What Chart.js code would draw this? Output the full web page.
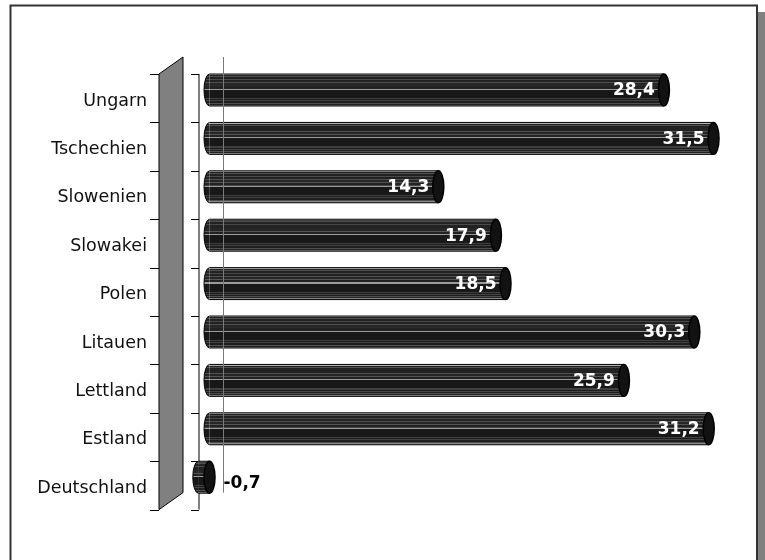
<!DOCTYPE html>
<html>
<head>
<meta charset="utf-8">
<script src="https://cdn.jsdelivr.net/npm/chart.js@4.4.1/dist/chart.umd.min.js"></script>
<style>
  body { margin: 0; background: #fff; }
  #chart { display: block; }
</style>
</head>
<body>
<canvas id="chart" width="765" height="560"></canvas>
<script>
// data
var categories = ['Ungarn', 'Tschechien', 'Slowenien', 'Slowakei', 'Polen', 'Litauen', 'Lettland', 'Estland', 'Deutschland'];
var values = [28.4, 31.5, 14.3, 17.9, 18.5, 30.3, 25.9, 31.2, -0.7];
var valueLabels = ['28,4', '31,5', '14,3', '17,9', '18,5', '30,3', '25,9', '31,2', '-0,7'];

// stripe pattern across the cylinder (fraction of bar height, grey)
var stripeStops = [
    [0.00, '#b0b0b0'], [0.04, '#222222'], [0.07, '#505050'], [0.10, '#222222'],
    [0.16, '#4a4a4a'], [0.19, '#222222'], [0.26, '#505050'], [0.29, '#262626'],
    [0.36, '#555555'], [0.39, '#222222'], [0.46, '#9a9a9a'], [0.50, '#181818'],
    [0.75, '#404040'], [0.79, '#1c1c1c'], [0.82, '#444444'], [0.85, '#1e1e1e'],
    [0.90, '#505050'], [0.93, '#222222'], [0.96, '#8a8a8a'], [1.00, '#8a8a8a']
];

function stripeFill(ctx, top, h) {
    var g = ctx.createLinearGradient(0, top, 0, top + h);
    for (var i = 0; i < stripeStops.length; i++) {
        var s = stripeStops[i];
        g.addColorStop(s[0], s[1]);
        if (i + 1 < stripeStops.length) g.addColorStop(Math.max(s[0], stripeStops[i + 1][0] - 0.001), s[1]);
    }
    return g;
}

var depth = { dx: 24, dy: -17, bandShift: 8.2 };

// frame, grey wall, brackets
var decorPlugin = {
    id: 'decor',
    beforeDraw: function(chart) {
        var c = chart.ctx;
        c.save();
        c.fillStyle = '#808080';
        c.fillRect(758, 12, 7, 560);
        c.strokeStyle = '#333';
        c.lineWidth = 2;
        c.strokeRect(10.5, 5.5, 746.5, 600);
        c.restore();
    },
    beforeDatasetsDraw: function(chart) {
        var c = chart.ctx, a = chart.chartArea;
        var top = a.top + depth.bandShift, bottom = a.bottom + depth.bandShift;
        var n = categories.length, step = (bottom - top) / n;
        var wl = a.left - 34.5, wr = wl + depth.dx;
        c.save();
        // side wall
        c.beginPath();
        c.moveTo(wl, top);
        c.lineTo(wr, top + depth.dy);
        c.lineTo(wr, bottom + depth.dy);
        c.lineTo(wl, bottom);
        c.closePath();
        c.fillStyle = '#808080';
        c.fill();
        c.strokeStyle = '#000';
        c.lineWidth = 1;
        c.stroke();
        // ticks on wall and bracket
        var bx = a.left + 5.5;
        c.beginPath();
        c.moveTo(bx, top);
        c.lineTo(bx, bottom);
        for (var i = 0; i <= n; i++) {
            var y = Math.round(top + i * step) + 0.5;
            c.moveTo(wl - 9, y);
            c.lineTo(wl, y);
            c.moveTo(bx - 8, y);
            c.lineTo(bx, y);
        }
        c.stroke();
        c.restore();
    },
    afterDatasetsDraw: function(chart) {
        var c = chart.ctx, a = chart.chartArea;
        var meta = chart.getDatasetMeta(0);
        var zero = chart.scales.x.getPixelForValue(0);
        c.save();
        // cylinder caps and outlines
        meta.data.forEach(function(bar, i) {
            var h = bar.height, cy = bar.y, t = cy - h / 2;
            var left = Math.min(bar.x, bar.base), right = Math.max(bar.x, bar.base);
            var rx = 5.5;
            c.lineWidth = 1;
            c.strokeStyle = '#000';
            c.beginPath();
            c.ellipse(left, cy, rx, h / 2, 0, Math.PI / 2, Math.PI * 1.5);
            c.fillStyle = stripeFill(c, t, h);
            c.fill();
            c.stroke();
            c.beginPath();
            c.moveTo(left, t);
            c.lineTo(right, t);
            c.moveTo(left, t + h);
            c.lineTo(right, t + h);
            c.stroke();
            c.beginPath();
            c.ellipse(right, cy, rx, h / 2, 0, 0, Math.PI * 2);
            c.fillStyle = '#121212';
            c.fill();
            c.lineWidth = 1.5;
            c.stroke();
        });
        // back-wall zero line
        var zx = Math.round(zero + 13.5) + 0.5;
        c.strokeStyle = '#7a7a7a';
        c.lineWidth = 1;
        c.beginPath();
        c.moveTo(zx, a.top + depth.bandShift + depth.dy);
        c.lineTo(zx, a.bottom + depth.bandShift + depth.dy);
        c.stroke();
        // value labels
        c.font = 'bold 17px "DejaVu Sans"';
        c.textBaseline = 'middle';
        meta.data.forEach(function(bar, i) {
            if (values[i] >= 0) {
                c.textAlign = 'right';
                c.fillStyle = '#fff';
                c.fillText(valueLabels[i], bar.x - 9, bar.y + 1);
            } else {
                c.textAlign = 'left';
                c.fillStyle = '#000';
                c.fillText(valueLabels[i], zero + 14, bar.y + 6);
            }
        });
        c.restore();
    }
};

var ctx = document.getElementById('chart').getContext('2d');
var chart = new Chart(ctx, {
    type: 'bar',
    data: {
        labels: categories,
        datasets: [{
            data: values,
            backgroundColor: function(context) {
                var ch = context.chart, ys = ch.scales.y;
                if (!ys || !ch.chartArea) return '#1a1a1a';
                var step = (ch.chartArea.bottom - ch.chartArea.top) / categories.length;
                var h = step * 0.66;
                var cy = ys.getPixelForValue(context.dataIndex);
                return stripeFill(ch.ctx, cy - h / 2, h);
            },
            borderWidth: 0,
            barPercentage: 0.66,
            categoryPercentage: 1
        }]
    },
    options: {
        indexAxis: 'y',
        responsive: false,
        animation: false,
        layout: { padding: { top: 65.8, bottom: 58.6, left: 0, right: 27.5 } },
        plugins: {
            legend: { display: false },
            tooltip: { enabled: false }
        },
        scales: {
            x: {
                type: 'linear',
                min: -1,
                max: 33,
                display: false
            },
            y: {
                type: 'category',
                afterFit: function(scale) { scale.width = 193.5; },
                grid: { display: false },
                border: { display: false },
                ticks: {
                    color: '#111',
                    font: { family: '"DejaVu Sans"', size: 17.5 },
                    padding: 38.5,
                    labelOffset: 11
                }
            }
        }
    },
    plugins: [decorPlugin]
});
</script>
</body>
</html>
